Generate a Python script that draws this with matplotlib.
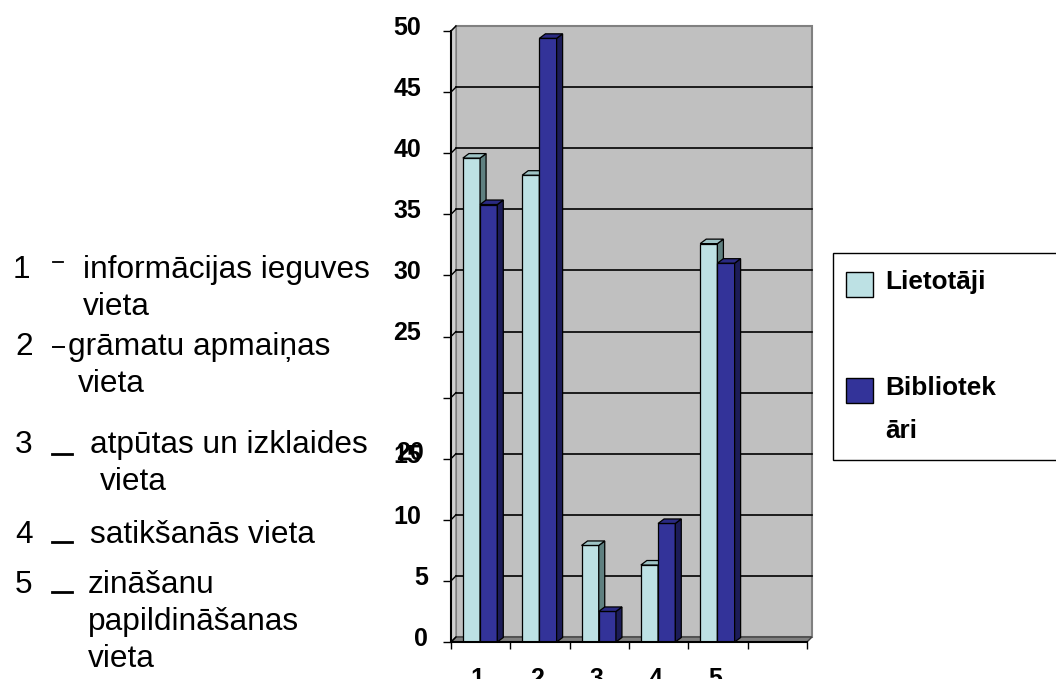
import numpy as np
import matplotlib
matplotlib.use("Agg")
import matplotlib.pyplot as plt
from matplotlib.patches import Rectangle, Polygon
from matplotlib.lines import Line2D
import matplotlib.transforms as mtransforms

# ---------------- data ----------------
categories = ["1", "2", "3", "4", "5"]
series_names = ["Lietotāji", "Bibliotekāri"]
lietotaji = [39.6, 38.2, 7.9, 6.3, 32.6]
bibliotekari = [35.8, 49.4, 2.5, 9.7, 31.0]
y_ticks = [0, 5, 10, 15, 20, 25, 30, 35, 40, 45, 50]
y_tick_labels = ["0", "5", "10", "15", "", "25", "30", "35", "40", "45", "50"]
overlap_label = ("20", 15)   # label drawn over the "15" label in the original
explanations = [
    ("1", ["informācijas ieguves", "vieta"]),
    ("2", ["grāmatu apmaiņas", "vieta"]),
    ("3", ["atpūtas un izklaides", "vieta"]),
    ("4", ["satikšanās vieta"]),
    ("5", ["zināšanu", "papildināšanas", "vieta"]),
]
legend_lines = [["Lietotāji"], ["Bibliotek", "āri"]]

# ---------------- style ----------------
W, H = 1056, 679
FONT = "Liberation Sans"
plt.rcParams["font.family"] = [FONT, "DejaVu Sans"]

light = "#BDE1E4"; light_side = "#5F8080"; light_top = "#9EC4C6"
dark = "#333399"; dark_side = "#1C1C58"; dark_top = "#2A2A82"

fig = plt.figure(figsize=(W / 100, H / 100), dpi=100)
fig.patch.set_facecolor("white")

def fx(x):
    return x / W

def fy(y):
    return 1 - y / H

ax = fig.add_axes([451 / W, 37 / H, 356 / W, 611 / H])
ax.set_facecolor("none")
n_slots = len(categories) + 1
ax.set_xlim(-0.5, n_slots - 0.5)
ax.set_ylim(0, 50)

# 3D depth of the walls and bars in data units
dx, dy = 5 / 59.33, 5 / 12.22
bdx, bdy = 6 / 59.33, 4.5 / 12.22

x0, x1 = -0.5, n_slots - 0.5
# back wall
ax.add_patch(Rectangle((x0 + dx, dy), x1 - x0, 50, facecolor="#C0C0C0",
                       edgecolor="#808080", lw=1.5, zorder=0, clip_on=False))
# left wall
ax.add_patch(Polygon([(x0, 0), (x0 + dx, dy), (x0 + dx, 50 + dy), (x0, 50)],
                     closed=True, facecolor="#D0D0D0", edgecolor="#808080",
                     lw=1, zorder=0.5, clip_on=False))
# floor
ax.add_patch(Polygon([(x0, 0), (x1, 0), (x1 + dx, dy), (x0 + dx, dy)],
                     closed=True, facecolor="#808080", edgecolor="#404040",
                     lw=1, zorder=0.6, clip_on=False))
# gridlines on back wall and left wall
for v in y_ticks[1:-1]:
    ax.add_line(Line2D([x0 + dx, x1 + dx], [v + dy, v + dy], color="black",
                       lw=1.2, zorder=0.7, clip_on=False))
for v in y_ticks:
    ax.add_line(Line2D([x0, x0 + dx], [v, v + dy], color="black",
                       lw=1.0, zorder=0.8, clip_on=False))

# bars
xc = np.arange(len(categories))
w = 0.29
offsets = [-0.30, -0.01]
series = [lietotaji, bibliotekari]
faces = [(light, light_side, light_top), (dark, dark_side, dark_top)]
z = 2
for ser, off, (fc, sc, tc), name in zip(series, offsets, faces, series_names):
    bars = ax.bar(xc + off, ser, width=w, align="edge", color=fc,
                  edgecolor="black", lw=0.9, zorder=z, label=name)
    for b in bars:
        bx, bw, bh = b.get_x(), b.get_width(), b.get_height()
        ax.add_patch(Polygon([(bx + bw, 0), (bx + bw + bdx, bdy),
                              (bx + bw + bdx, bh + bdy), (bx + bw, bh)],
                             closed=True, facecolor=sc, edgecolor="black",
                             lw=0.9, zorder=z + 0.1, clip_on=False))
        ax.add_patch(Polygon([(bx, bh), (bx + bdx, bh + bdy),
                              (bx + bw + bdx, bh + bdy), (bx + bw, bh)],
                             closed=True, facecolor=tc, edgecolor="black",
                             lw=0.9, zorder=z + 0.1, clip_on=False))
    z += 1

# spines
for s in ["top", "right"]:
    ax.spines[s].set_visible(False)
for s in ["left", "bottom"]:
    ax.spines[s].set_linewidth(1.5)
    ax.spines[s].set_color("black")
    ax.spines[s].set_zorder(10)

# y ticks
TFS = 18
ax.set_yticks(y_ticks)
ax.set_yticklabels(y_tick_labels, fontsize=TFS, fontweight="bold")
ax.tick_params(axis="y", length=6, width=1, pad=15.5, colors="black")
for lbl in ax.get_yticklabels():
    shift_x = 0.07 if len(lbl.get_text()) == 1 else 0.0
    lbl.set_transform(lbl.get_transform() + mtransforms.ScaledTranslation(
        shift_x, 0.055, fig.dpi_scale_trans))
ovl_tr = ax.get_yaxis_transform() + mtransforms.ScaledTranslation(
    -(6 + 21.5) / 100, 0.055, fig.dpi_scale_trans)
ax.text(0, overlap_label[1], overlap_label[0], transform=ovl_tr, ha="right",
        va="center", fontsize=TFS, fontweight="bold", color="black")

# x ticks
ax.set_xticks(np.arange(n_slots))
ax.set_xticklabels(categories + [""], fontsize=TFS, fontweight="bold")
ax.set_xticks(np.arange(n_slots + 1) - 0.5, minor=True)
ax.tick_params(axis="x", which="major", length=0, pad=18)
ax.tick_params(axis="x", which="minor", length=5, width=1, direction="out")
for lbl in ax.get_xticklabels():
    lbl.set_transform(lbl.get_transform() + mtransforms.ScaledTranslation(
        -0.03, 0, fig.dpi_scale_trans))

# legend (manual box, extends past right edge as in original)
fig.patches.append(Rectangle((fx(833), fy(460)), fx(240), 207 / H,
                             transform=fig.transFigure, facecolor="white",
                             edgecolor="black", lw=1, zorder=1))
sq_tops = [272, 378]
txt_base = [[289], [395, 438]]
for (fc, _, _), top, lines, bases in zip(faces, sq_tops, legend_lines, txt_base):
    fig.patches.append(Rectangle((fx(846), fy(top + 25)), 27 / W, 25 / H,
                                 transform=fig.transFigure, facecolor=fc,
                                 edgecolor="black", lw=1, zorder=2))
    for t, b in zip(lines, bases):
        fig.text(fx(885), fy(b), t, fontsize=18.8, fontweight="bold",
                 va="baseline", ha="left", zorder=3)

# left-side explanation text
fs = 22.8
num_x = [13, 15, 15, 15, 15]
text_x = [[83, 83], [68, 78], [90, 100], [90], [88, 88, 88]]
text_base = [[278, 315], [355, 392], [453, 490], [543], [593, 630, 667]]
dashes = [((53, 63), 262, 1.3), ((53, 64), 347, 1.4), ((52, 72), 454, 2.0),
          ((52, 72), 542, 2.0), ((52, 72), 592, 2.0)]
for (num, lines), nx, txs, bases, (dxr, dyy, dlw) in zip(
        explanations, num_x, text_x, text_base, dashes):
    fig.text(fx(nx), fy(bases[0]), num, fontsize=fs, va="baseline", ha="left")
    for t, tx, b in zip(lines, txs, bases):
        fig.text(fx(tx), fy(b), t, fontsize=fs, va="baseline", ha="left")
    fig.add_artist(Line2D([fx(dxr[0]), fx(dxr[1])], [fy(dyy), fy(dyy)],
                          transform=fig.transFigure, color="black", lw=dlw))

fig.savefig("out.png", dpi=100)
